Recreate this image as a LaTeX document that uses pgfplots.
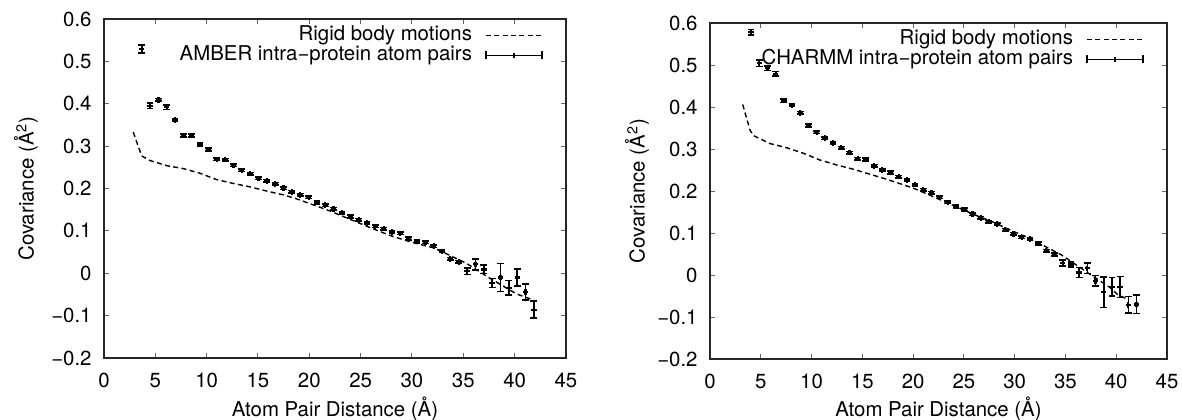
\documentclass[border=0pt]{standalone}
\usepackage{fontspec}
\setmainfont{TeX Gyre Heros}
\usepackage{pgfplots}
\pgfplotsset{compat=1.18}
\usepackage{pgfplotstable}

\pgfplotstableread{
x y e
3.67 0.529 0.009
4.48 0.395 0.0065
5.30 0.409 0.003
6.11 0.392 0.0055
6.92 0.362 0.003
7.73 0.325 0.003
8.55 0.325 0.003
9.36 0.304 0.003
10.17 0.292 0.003
10.99 0.269 0.003
11.80 0.268 0.003
12.61 0.255 0.003
13.42 0.243 0.003
14.24 0.235 0.003
15.05 0.224 0.003
15.86 0.218 0.003
16.67 0.211 0.003
17.49 0.201 0.003
18.30 0.192 0.003
19.11 0.185 0.003
19.93 0.179 0.003
20.74 0.167 0.003
21.55 0.161 0.003
22.36 0.152 0.003
23.18 0.143 0.003
23.99 0.134 0.003
24.80 0.126 0.003
25.62 0.119 0.003
26.43 0.111 0.003
27.24 0.105 0.003
28.05 0.097 0.003
28.87 0.094 0.003
29.68 0.082 0.003
30.49 0.075 0.003
31.31 0.073 0.003
32.12 0.064 0.003
32.93 0.052 0.003
33.74 0.034 0.003
34.56 0.027 0.003
35.37 0.005 0.008
36.18 0.021 0.013
37.00 0.009 0.010
37.81 -0.023 0.011
38.62 -0.010 0.033
39.43 -0.034 0.017
40.25 -0.010 0.020
41.06 -0.044 0.019
41.87 -0.086 0.020
}\amber

\pgfplotstableread{
x y e
4.04 0.578 0.0065
4.85 0.504 0.0075
5.66 0.492 0.0055
6.46 0.479 0.0055
7.27 0.415 0.0045
8.08 0.404 0.003
8.89 0.386 0.003
9.69 0.356 0.003
10.50 0.340 0.003
11.31 0.326 0.003
12.12 0.314 0.003
12.92 0.303 0.003
13.73 0.291 0.003
14.54 0.277 0.003
15.35 0.275 0.003
16.16 0.260 0.003
16.96 0.250 0.003
17.77 0.244 0.003
18.58 0.234 0.003
19.39 0.226 0.003
20.19 0.215 0.003
21.00 0.203 0.003
21.81 0.196 0.003
22.62 0.185 0.003
23.42 0.173 0.003
24.23 0.163 0.003
25.04 0.156 0.003
25.85 0.145 0.003
26.66 0.136 0.003
27.46 0.127 0.003
28.27 0.121 0.003
29.08 0.108 0.003
29.89 0.098 0.003
30.69 0.090 0.003
31.50 0.086 0.003
32.31 0.075 0.003
33.12 0.058 0.003
33.92 0.049 0.004
34.73 0.029 0.007
35.54 0.025 0.006
36.35 0.006 0.0115
37.16 0.016 0.0127
37.96 -0.014 0.0127
38.77 -0.041 0.036
39.58 -0.028 0.022
40.39 -0.029 0.025
41.19 -0.071 0.020
42.00 -0.070 0.022
}\charmm

\pgfplotsset{
  covstyle/.style={
    scale only axis,
    xmin=0, xmax=45, ymin=-0.2, ymax=0.6,
    xtick={0,5,10,15,20,25,30,35,40,45},
    xticklabels={0,5,10,15,20,25,30,35,40,45},
    ytick={-0.2,-0.1,0,0.1,0.2,0.3,0.4,0.5,0.6},
    yticklabels={−0.2,−0.1,0,0.1,0.2,0.3,0.4,0.5,0.6},
    tick align=inside,
    major tick length=2.5pt,
    every tick/.style={black!60, line width=0.5pt},
    axis line style={black!85, line width=0.6pt},
    tick label style={font=\fontsize{10.2}{12}\selectfont},
    label style={font=\fontsize{10.2}{12}\selectfont},
    xticklabel style={yshift=-4pt},
    yticklabel style={xshift=-2.7pt},
    xlabel={Atom Pair Distance (Å)},
    ylabel={Covariance (Å\textsuperscript{2})},
    legend cell align=right,
    legend plot pos=right,
    legend style={draw=none, fill=none, at={(axis description cs:1,1)}, anchor=north east,
      xshift=-11.5pt, yshift=-3.5pt, inner sep=0pt, column sep=6.5pt, row sep=1pt,
      nodes={inner sep=0pt, text height=7pt, text depth=2pt},
      font=\fontsize{10.2}{12}\selectfont},
  },
  rigid/.style={black, line width=0.7pt, dash pattern=on 2.5pt off 1.7pt, mark=none,
    legend image code/.code={\draw[black, line width=0.7pt, dash pattern=on 2.5pt off 1.7pt] (0pt,0pt) -- (28pt,0pt);}},
  pairs/.style={black, only marks, mark=+, mark size=1.35pt, line width=1.1pt,
    legend image code/.code={
      \draw[black, line width=0.8pt] (0pt,0pt) -- (28pt,0pt);
      \draw[black, line width=0.8pt] (0pt,-2pt) -- (0pt,2pt);
      \draw[black, line width=0.8pt] (28pt,-2pt) -- (28pt,2pt);
      \draw[black, line width=0.8pt] (14pt,-1.3pt) -- (14pt,1.3pt);},
    error bars/.cd, y dir=both, y explicit,
    error bar style={line width=0.8pt, black},
    error mark options={rotate=90, mark size=1.7pt, line width=0.8pt, black}},
}

\begin{document}
\begin{tikzpicture}
\useasboundingbox (0,0) rectangle (591pt,209.5pt);
\begin{axis}[covstyle, at={(52pt,30.5pt)}, anchor=south west, width=231pt, height=169.5pt,
  ylabel style={at={(axis description cs:-0.169,0.5)}, anchor=center},
  xlabel style={at={(axis description cs:0.5,-0.150)}, anchor=center}]
\addplot[rigid] coordinates {
(2.85,0.333) (3.67,0.277) (4.48,0.266) (6.1,0.254) (7.72,0.247) (9.35,0.236)
(10.97,0.221) (12.59,0.212) (14.2,0.204) (15.84,0.194) (17.46,0.185) (18.6,0.177)
(20.2,0.163) (21.8,0.149) (24.0,0.127) (26.0,0.107) (28.0,0.088) (30.0,0.073)
(32.1,0.060) (33.0,0.050) (35.3,0.0235) (37.6,-0.012) (40.2,-0.049) (41.8,-0.063)};
\addlegendentry{Rigid body motions}
\addplot[pairs] table[x=x, y=y, y error=e] {\amber};
\addlegendentry{AMBER intra−protein atom pairs}
\end{axis}
\begin{axis}[covstyle, at={(355pt,30pt)}, anchor=south west, width=228.5pt, height=168pt,
  ylabel style={at={(axis description cs:-0.160,0.5)}, anchor=center},
  xlabel style={at={(axis description cs:0.5,-0.149)}, anchor=center}]
\addplot[rigid] coordinates {
(3.22,0.406) (3.94,0.345) (4.27,0.332) (5.9,0.313) (7.55,0.303) (9.18,0.290)
(10.8,0.274) (12.47,0.262) (14.1,0.252) (15.75,0.240) (17.39,0.228) (18.4,0.220)
(20.0,0.207) (21.65,0.190) (24.0,0.165) (26.0,0.144) (28.2,0.123) (29.0,0.113)
(31.0,0.092) (33.0,0.068) (34.6,0.048) (37.4,0.002) (39.4,-0.030) (40.2,-0.048) (41.2,-0.058)};
\addlegendentry{Rigid body motions}
\addplot[pairs] table[x=x, y=y, y error=e] {\charmm};
\addlegendentry{CHARMM intra−protein atom pairs}
\end{axis}
\end{tikzpicture}
\end{document}
